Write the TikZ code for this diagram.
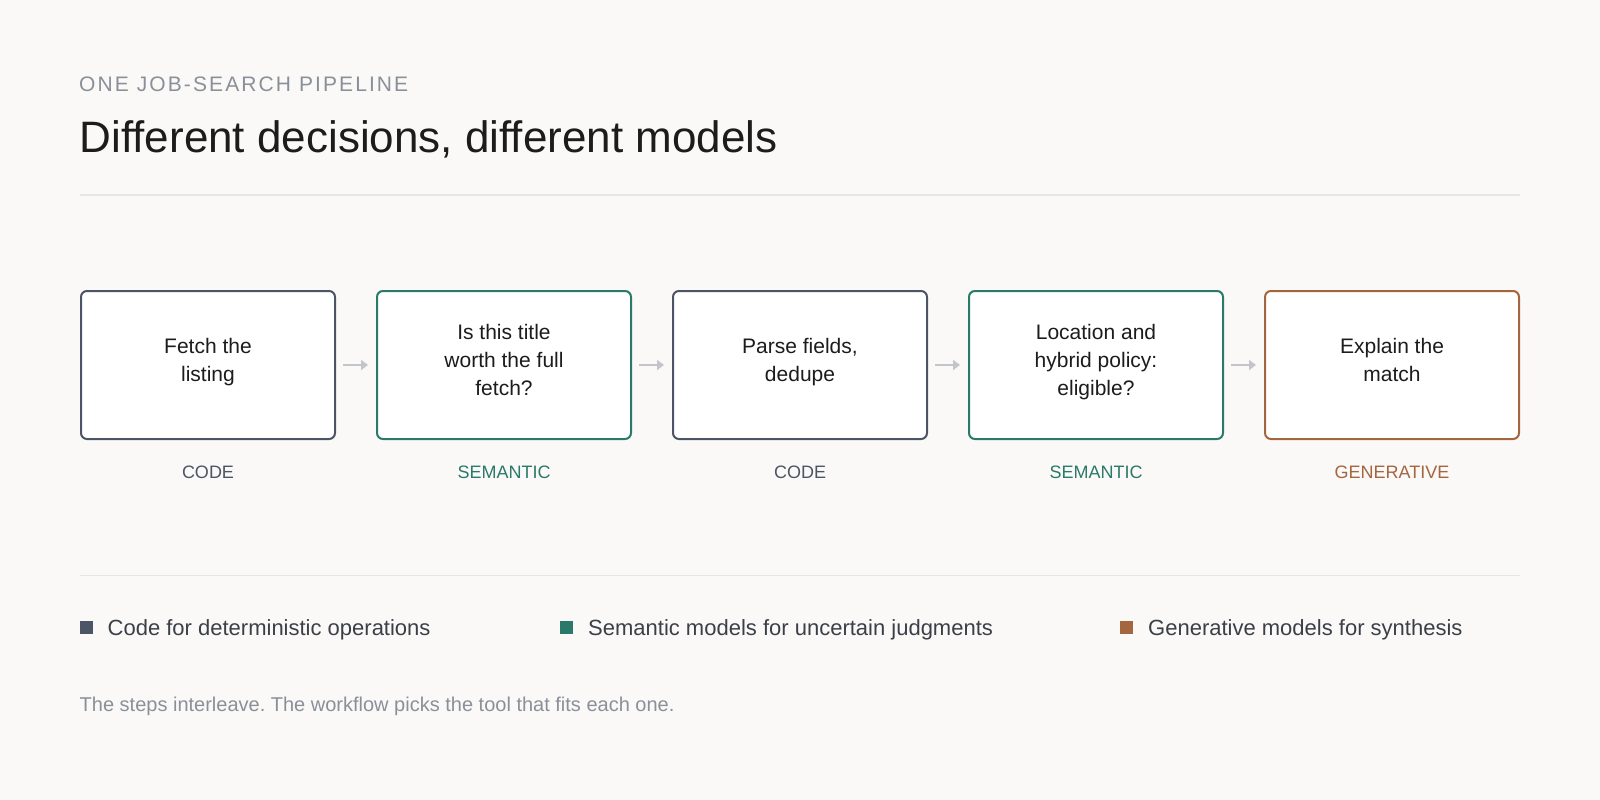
\documentclass[tikz,border=0pt]{standalone}
\usepackage{fontspec}
\setmainfont{Liberation Sans}
\newfontfamily\kickerfont[LetterSpace=10]{Liberation Sans}
\usetikzlibrary{positioning,arrows.meta}
\definecolor{pagebg}{HTML}{FAF9F7}
\definecolor{codec}{HTML}{4B5565}
\definecolor{semc}{HTML}{2B7A69}
\definecolor{genc}{HTML}{A4663F}
\definecolor{inkc}{HTML}{1C1C1C}
\definecolor{mutec}{HTML}{8A9099}
\definecolor{rulec}{HTML}{E8E6E3}
\definecolor{arrowc}{HTML}{C3C5CB}
\definecolor{legc}{HTML}{3B4048}
\frenchspacing
\begin{document}
\begin{tikzpicture}[x=1pt,y=-1pt]
	\tikzstyle{every node}+=[inner sep=0pt]
	\tikzstyle{stepbox}=[draw, line width=2pt, fill=white, rounded corners=6pt, minimum width=254pt, minimum height=148pt, align=center, text=inkc, font=\fontsize{21}{28}\selectfont, text depth=10pt]
	\tikzstyle{kind}=[font=\fontsize{18}{20}\selectfont]
	\tikzstyle{flow}=[draw=arrowc, line width=2pt, -{Triangle[length=7pt,width=10pt]}, shorten <=7pt, shorten >=8pt]
	\tikzstyle{swatch}=[minimum size=12.5pt]
	\tikzstyle{legend}=[text=legc, font=\fontsize{22}{26}\selectfont, anchor=base west]
	\fill [pagebg] (0,0) rectangle (1600,800);
	\useasboundingbox (0,0) rectangle (1600,800);
	\node [anchor=base west, text=mutec, font=\kickerfont\fontsize{21}{24}\selectfont] (kicker) at (79,92) {ONE JOB-SEARCH PIPELINE};
	\node [anchor=base west, text=inkc, font=\fontsize{44}{50}\selectfont] (headline) at (79.5,152) {Different decisions, different models};
	\draw [rulec, line width=1.5pt] (80,195) -- (1520,195);
	\node [stepbox, draw=codec] (fetch) at (208,365) {Fetch the\\listing};
	\node [stepbox, draw=semc, right=40pt of fetch] (titlecheck) {Is this title\\worth the full\\fetch?};
	\node [stepbox, draw=codec, right=40pt of titlecheck] (parse) {Parse fields,\\dedupe};
	\node [stepbox, draw=semc, right=40pt of parse] (eligible) {Location and\\hybrid policy:\\eligible?};
	\node [stepbox, draw=genc, right=40pt of eligible] (explain) {Explain the\\match};
	\draw [flow] (fetch) -- (titlecheck);
	\draw [flow] (titlecheck) -- (parse);
	\draw [flow] (parse) -- (eligible);
	\draw [flow] (eligible) -- (explain);
	\node [kind, text=codec, below=26pt of fetch] (fetchkind) {CODE};
	\node [kind, text=semc, below=26pt of titlecheck] (titlecheckkind) {SEMANTIC};
	\node [kind, text=codec, below=26pt of parse] (parsekind) {CODE};
	\node [kind, text=semc, below=26pt of eligible] (eligiblekind) {SEMANTIC};
	\node [kind, text=genc, below=26pt of explain] (explainkind) {GENERATIVE};
	\draw [rulec, line width=1.5pt] (80,575.5) -- (1520,575.5);
	\node [swatch, fill=codec] (keycode) at (86.5,627.5) {};
	\node [legend] (keycodetext) at (107.5,635) {Code for deterministic operations};
	\node [swatch, fill=semc] (keysem) at (566.5,627.5) {};
	\node [legend] (keysemtext) at (588,635) {Semantic models for uncertain judgments};
	\node [swatch, fill=genc] (keygen) at (1126.5,627.5) {};
	\node [legend] (keygentext) at (1148,635) {Generative models for synthesis};
	\node [anchor=base west, text=mutec, font=\fontsize{20}{24}\selectfont] (footnote) at (79.5,711.5) {The steps interleave. The workflow picks the tool that fits each one.};
\end{tikzpicture}
\end{document}
